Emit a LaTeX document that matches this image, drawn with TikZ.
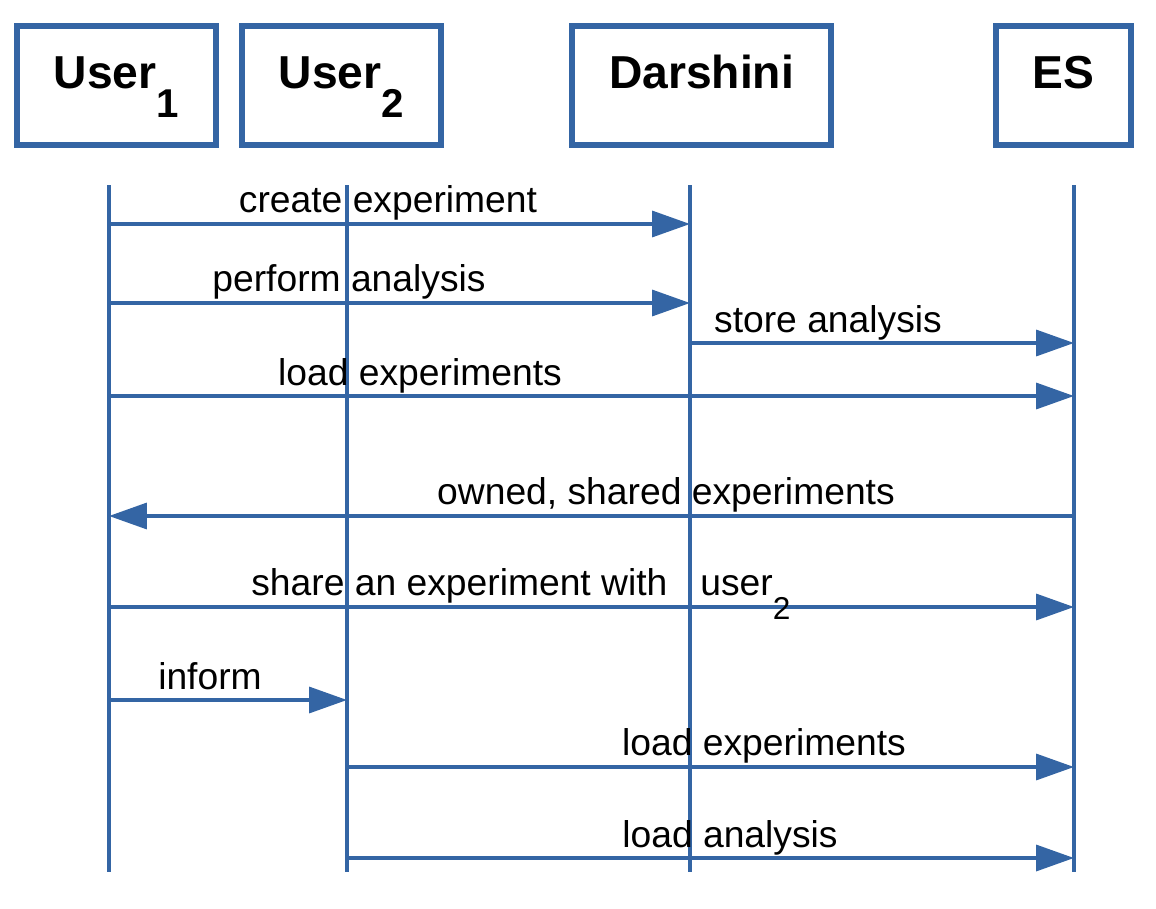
\documentclass[tikz,border=0pt]{standalone}
\usepackage{fontspec}
\setmainfont{Liberation Sans}
\usetikzlibrary{arrows.meta}
\definecolor{lo}{RGB}{52,101,164}
\newcommand{\hsub}[1]{\raisebox{-16.4pt}{\fontsize{22.9}{26}\selectfont #1}}
\newcommand{\tsub}[1]{\raisebox{-14pt}{\fontsize{18}{20}\selectfont #1}}
\begin{document}
\begin{tikzpicture}[x=0.02cm,y=-0.02cm,
  box/.style={draw=lo,line width=3.2pt,inner sep=0pt,text height=1.26cm,text depth=1.12cm,
    minimum height=2.38cm,font=\fontsize{26.3}{30}\selectfont\bfseries},
  life/.style={draw=lo,line width=1.8pt},
  msg/.style={draw=lo,line width=2pt,-{Triangle[length=0.76cm,width=0.52cm]}},
  lbl/.style={anchor=base,font=\fontsize{21.2}{25}\selectfont,inner sep=0pt}]
\useasboundingbox (0,0) rectangle (1156,909);
% header boxes
\node[box,minimum width=3.98cm] (u1) at (116.5,85.5) {User\hsub{1}};
\node[box,minimum width=3.98cm] (u2) at (341.5,85.5) {User\hsub{2}};
\node[box,minimum width=5.18cm] (da) at (701.5,85.5) {Darshini};
\node[box,minimum width=2.7cm] (es) at (1063.5,85.5) {ES};
% lifelines
\coordinate (u1t) at (109,185); \coordinate (u1b) at (109,872);
\coordinate (u2t) at (347,185); \coordinate (u2b) at (347,872);
\coordinate (dat) at (690,185); \coordinate (dab) at (690,872);
\coordinate (est) at (1074,185); \coordinate (esb) at (1074,872);
\draw[life] (u1t) -- (u1b);
\draw[life] (u2t) -- (u2b);
\draw[life] (dat) -- (dab);
\draw[life] (est) -- (esb);
% message end points
\coordinate (m1a) at (109,224); \coordinate (m1b) at (690,224);
\coordinate (m2a) at (109,303); \coordinate (m2b) at (690,303);
\coordinate (m3a) at (690,343); \coordinate (m3b) at (1074,343);
\coordinate (m4a) at (109,396); \coordinate (m4b) at (1074,396);
\coordinate (m5a) at (1074,516); \coordinate (m5b) at (109,516);
\coordinate (m6a) at (109,607); \coordinate (m6b) at (1074,607);
\coordinate (m7a) at (109,700); \coordinate (m7b) at (347,700);
\coordinate (m8a) at (347,767); \coordinate (m8b) at (1074,767);
\coordinate (m9a) at (347,858); \coordinate (m9b) at (1074,858);
\draw[msg] (m1a) -- (m1b);
\draw[msg] (m2a) -- (m2b);
\draw[msg] (m3a) -- (m3b);
\draw[msg] (m4a) -- (m4b);
\draw[msg] (m5a) -- (m5b);
\draw[msg] (m6a) -- (m6b);
\draw[msg] (m7a) -- (m7b);
\draw[msg] (m8a) -- (m8b);
\draw[msg] (m9a) -- (m9b);
% labels
\node[lbl] (l1) at (388,212) {create experiment};
\node[lbl] (l2) at (349,291) {perform analysis};
\node[lbl] (l3) at (828,332) {store analysis};
\node[lbl] (l4) at (420,385) {load experiments};
\node[lbl] (l5) at (666,504) {owned, shared experiments};
\node[lbl,anchor=base west] (l6) at (251,595) {share an experiment with\hspace{0.66cm}user\tsub{2}};
\node[lbl] (l7) at (210,689) {inform};
\node[lbl] (l8) at (764,755) {load experiments};
\node[lbl] (l9) at (730,847) {load analysis};
\end{tikzpicture}
\end{document}
